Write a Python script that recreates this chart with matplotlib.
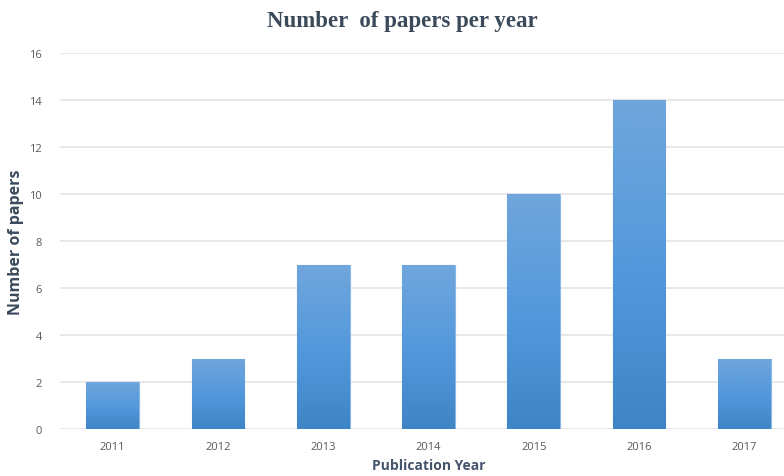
import numpy as np
import matplotlib
matplotlib.use("Agg")
import matplotlib.pyplot as plt
from matplotlib.colors import LinearSegmentedColormap

years = ['2011', '2012', '2013', '2014', '2015', '2016', '2017']
papers = [2, 3, 7, 7, 10, 14, 3]
yticks = [0, 2, 4, 6, 8, 10, 12, 14, 16]

plt.rcParams['font.family'] = ['Open Sans', 'DejaVu Sans']

fig = plt.figure(figsize=(7.84, 4.77), dpi=100)
# axes run a bit past the right edge, as in the cropped original
ax = fig.add_axes([60/784, 47/477, 737/784, 376/477])

x = np.arange(len(years))
bars = ax.bar(x, papers, width=0.5, color='#5499dc', edgecolor='#8ab8e6', linewidth=0.8, zorder=2)

# vertical gradient inside each bar
grad = LinearSegmentedColormap.from_list('bluegrad', ['#3f85c6', '#5499dc', '#70a6dc'])
g = np.linspace(0, 1, 256).reshape(-1, 1)
for b in bars:
    im = ax.imshow(g, cmap=grad, origin='lower', aspect='auto', zorder=3,
                   extent=[b.get_x(), b.get_x() + b.get_width(), 0, b.get_height()])
    im.set_clip_path(b)

ax.set_xlim(-0.5, len(years) - 0.5)
ax.set_ylim(0, 16)
ax.set_xticks(x)
ax.set_xticklabels(years)
ax.set_yticks(yticks)
ax.tick_params(axis='both', length=0, labelsize=8, labelcolor='#595959')
ax.tick_params(axis='x', pad=9)
ax.tick_params(axis='y', pad=13)
ax.grid(axis='y', color='#e4e4e4', linewidth=1.2, zorder=0)
for s in ax.spines.values():
    s.set_visible(False)

ax.set_xlabel('Publication Year', fontsize=10, fontweight='bold', color='#44546a', labelpad=4)
ax.set_ylabel('Number of papers', fontsize=11.5, fontweight='bold', color='#3a4a5c', labelpad=4)
fig.text(402/784, 1 - 22/477, 'Number  of papers per year', ha='center', va='center',
         fontsize=16.5, fontweight='bold', family='Liberation Serif', color='#3b4a5b')

fig.savefig('out.png', dpi=100)
